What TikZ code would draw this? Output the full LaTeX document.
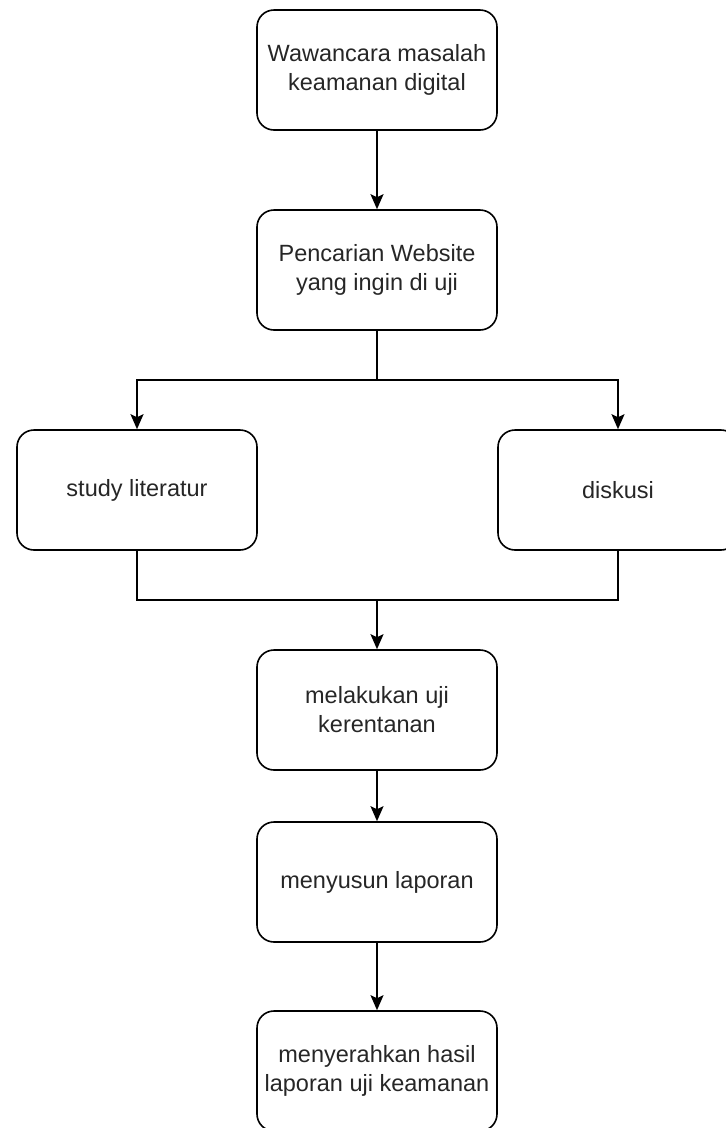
\documentclass[tikz,border=0pt]{standalone}
\usepackage{fontspec}
\setmainfont{Liberation Sans}
\usetikzlibrary{arrows.meta}
\definecolor{txt}{HTML}{262626}
\begin{document}
\begin{tikzpicture}[x=1pt,y=-1pt,
  box/.style={draw=black, line width=1.6pt, rounded corners=17pt, minimum width=240pt, minimum height=120pt, align=center, text=txt, inner sep=0pt, font=\fontsize{23.5}{29}\selectfont},
  conn/.style={draw=black, line width=1.6pt},
  arr/.style={conn, -{Stealth[length=15pt,width=13pt,inset=3pt]}}]
\useasboundingbox (0,0) rectangle (726,1128);
\clip (0,0) rectangle (726,1128);
\node[box] (n1) at (377,70) {Wawancara masalah\\keamanan digital};
\node[box] (n2) at (377,270) {Pencarian Website\\yang ingin di uji};
\node[box] (n3) at (137,490) {study literatur};
\node[box] (n4) at (618,490) {diskusi};
\node[box] (n5) at (377,710) {melakukan uji\\kerentanan};
\node[box] (n6) at (377,882) {menyusun laporan};
\node[box] (n7) at (377,1071) {menyerahkan hasil\\laporan uji keamanan};
\coordinate (split) at (377,380);
\coordinate (merge) at (377,600);
\draw[arr] (n1.south) -- (n2.north);
\draw[conn] (n2.south) -- (split);
\draw[arr] (split) -| (n3.north);
\draw[arr] (split) -| (n4.north);
\draw[conn] (n3.south) |- (merge);
\draw[conn] (n4.south) |- (merge);
\draw[arr] (merge) -- (n5.north);
\draw[arr] (n5.south) -- (n6.north);
\draw[arr] (n6.south) -- (n7.north);
\end{tikzpicture}
\end{document}
